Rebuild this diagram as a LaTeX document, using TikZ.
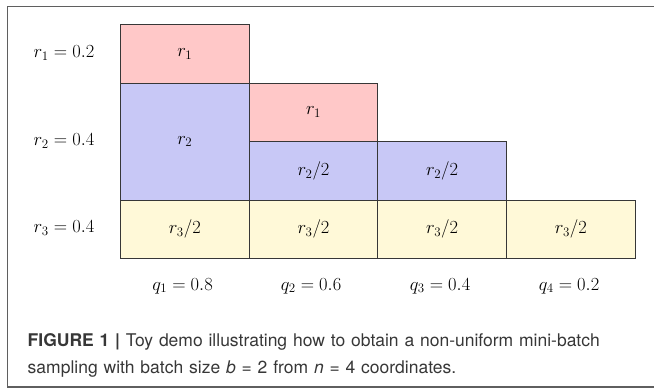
\documentclass[tikz,border=0pt]{standalone}
\usepackage{fix-cm}
\usepackage{fontspec}
\newfontfamily\capfont{TeX Gyre Heros}
\definecolor{cpink}{RGB}{255,200,200}
\definecolor{cblue}{RGB}{200,200,246}
\definecolor{cyell}{RGB}{255,249,216}
\definecolor{cedge}{RGB}{55,55,55}
\definecolor{cframe}{RGB}{95,95,95}
\definecolor{ctext}{RGB}{55,55,55}
\tikzset{
  cell/.style={draw=cedge, line width=0.9pt, anchor=north west, inner sep=0pt,
    minimum width=128.7pt, font=\fontsize{18.5}{20}\selectfont},
  lab/.style={font=\fontsize{18.5}{20}\selectfont, inner sep=0pt},
}
\begin{document}
\begin{tikzpicture}[x=1pt,y=-1pt]
\useasboundingbox (0,0) rectangle (654,388);
\draw[cframe, line width=1.6pt] (654,6.5) -- (7.3,6.5) -- (7.3,387) -- (654,387);
% cells
\node[cell, fill=cpink, minimum height=58.5pt] (a1) at (120,24) {$r_1$};
\node[cell, fill=cblue, minimum height=117pt] (a2) at (120,82.5) {$r_2$};
\node[cell, fill=cpink, minimum height=58.5pt] (b1) at (248.7,82.5) {$r_1$};
\node[cell, fill=cblue, minimum height=58.5pt] (b2) at (248.7,141) {$r_2/2$};
\node[cell, fill=cblue, minimum height=58.5pt] (c2) at (377.4,141) {$r_2/2$};
\node[cell, fill=cyell, minimum height=58.5pt] (a3) at (120,199.5) {$r_3/2$};
\node[cell, fill=cyell, minimum height=58.5pt] (b3) at (248.7,199.5) {$r_3/2$};
\node[cell, fill=cyell, minimum height=58.5pt] (c3) at (377.4,199.5) {$r_3/2$};
\node[cell, fill=cyell, minimum height=58.5pt] (d3) at (506.1,199.5) {$r_3/2$};
% row labels
\node[lab] (r1) at (64,53) {$r_1 = 0.2$};
\node[lab] (r2) at (64,141) {$r_2 = 0.4$};
\node[lab] (r3) at (64,228) {$r_3 = 0.4$};
% column labels
\node[lab] (q1) at (182.5,286) {$q_1 = 0.8$};
\node[lab] (q2) at (311,286) {$q_2 = 0.6$};
\node[lab] (q3) at (440,286) {$q_3 = 0.4$};
\node[lab] (q4) at (569,286) {$q_4 = 0.2$};
% caption
\node[anchor=north west, inner sep=0pt, text width=620pt, align=left, text=ctext,
  font=\capfont\fontsize{17.5}{27}\selectfont] (cap) at (27.5,333)
  {\textbf{FIGURE 1 |} Toy demo illustrating how to obtain a non-uniform mini-batch\\
   sampling with batch size \textit{b} = 2 from \textit{n} = 4 coordinates.};
\end{tikzpicture}
\end{document}
